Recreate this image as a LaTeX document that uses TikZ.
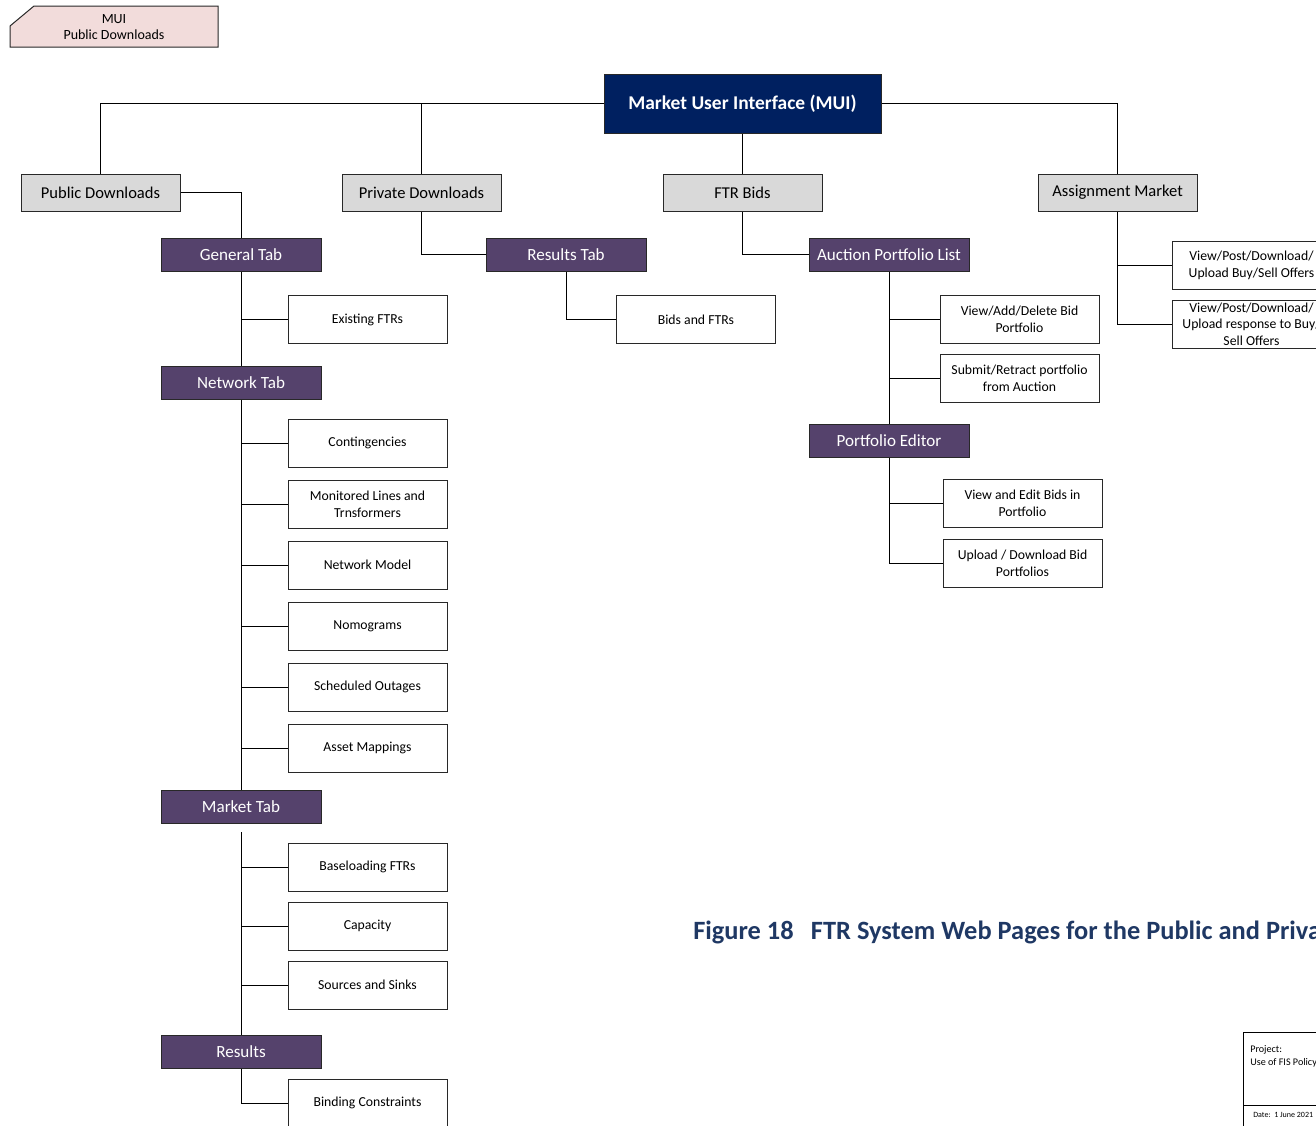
\documentclass[tikz,border=0pt]{standalone}
\usepackage{fontspec}
\setmainfont{Carlito}
\definecolor{navy}{HTML}{002060}
\definecolor{tabpurple}{RGB}{85,66,108}
\definecolor{boxgray}{HTML}{D9D9D9}
\definecolor{tagpink}{HTML}{F2DCDB}
\definecolor{capblue}{RGB}{31,56,100}
\definecolor{edge}{RGB}{40,40,40}
\tikzset{
  base/.style={draw=edge, line width=0.75pt, inner sep=0pt, align=center},
  graybox/.style={base, fill=boxgray, minimum width=119.25pt, minimum height=27.75pt, font=\fontsize{12.4}{14}\selectfont},
  tabbox/.style={base, fill=tabpurple, text=white, minimum width=120pt, minimum height=24.75pt, font=\fontsize{12.8}{14}\selectfont},
  leaf/.style={base, fill=white, minimum width=119.25pt, minimum height=36pt, font=\fontsize{10.3}{12.75}\selectfont},
  topbox/.style={base, fill=navy, text=white, minimum width=207.75pt, minimum height=44.25pt, font=\bfseries\fontsize{14.6}{16}\selectfont},
  conn/.style={draw=black, line width=0.75pt},
}
\begin{document}
\begin{tikzpicture}[x=0.75pt,y=-0.75pt]
\useasboundingbox (0,0) rectangle (1316,1125);
\begin{scope}
\clip (0,0) rectangle (1316,1125);
% tag
\draw[base, fill=tagpink] (10,26) -- (34,6) -- (218,6) -- (218,47) -- (10,47) -- cycle;
\node[font=\fontsize{10.5}{12.5}\selectfont, align=center] (tag) at (114,27) {MUI\\Public Downloads};

% top
\node[topbox] (mui) at (742.5,103.5) {Market User Interface (MUI)};
\node[graybox] (pub) at (100.5,192.5) {Public Downloads};
\node[graybox] (priv) at (421.5,192.5) {Private Downloads};
\node[graybox] (ftr) at (742.5,192.5) {FTR Bids};
\node[graybox] (asg) at (1117.5,192.5) {Assignment Market};

% tabs
\node[tabbox] (gen) at (241,254.5) {General Tab};
\node[tabbox] (net) at (241,382.5) {Network Tab};
\node[tabbox] (mkt) at (241,806.5) {Market Tab};
\node[tabbox] (res) at (241,1051.5) {Results};
\node[tabbox] (rtab) at (566,254.5) {Results Tab};
\node[tabbox] (apl) at (889,254.5) {Auction Portfolio List};
\node[tabbox] (ped) at (889,440.5) {Portfolio Editor};

% leaves public
\node[leaf] (exi) at (367.5,319.5) {Existing FTRs};
\node[leaf] (cont) at (367.5,443) {Contingencies};
\node[leaf] (mon) at (367.5,504) {Monitored Lines and\\Trnsformers};
\node[leaf] (nmod) at (367.5,565) {Network Model};
\node[leaf] (nomo) at (367.5,626) {Nomograms};
\node[leaf] (sched) at (367.5,687) {Scheduled Outages};
\node[leaf] (asset) at (367.5,748) {Asset Mappings};
\node[leaf] (basel) at (367.5,867) {Baseloading FTRs};
\node[leaf] (cap) at (367.5,926) {Capacity};
\node[leaf] (src) at (367.5,985) {Sources and Sinks};
\node[leaf] (bind) at (367.5,1103) {Binding Constraints};

% leaves private / ftr
\node[leaf] (bids) at (696,319.5) {Bids and FTRs};
\node[leaf] (vadd) at (1019.5,319.5) {View/Add/Delete Bid\\Portfolio};
\node[leaf] (subm) at (1019.5,378.5) {Submit/Retract portfolio\\from Auction};
\node[leaf] (vedit) at (1022.5,503) {View and Edit Bids in\\Portfolio};
\node[leaf] (upl) at (1022.5,563) {Upload / Download Bid\\Portfolios};

% assignment leaves
\node[leaf] (ao1) at (1251.5,265) {View/Post/Download/\\Upload Buy/Sell Offers};
\node[leaf, font=\fontsize{10.3}{12.3}\selectfont] (ao2) at (1251.5,324) {View/Post/Download/\\Upload response to Buy/\\Sell Offers};

% connectors top
\draw[conn] (mui.west) -| (pub.north);
\draw[conn] (mui.west) -| (priv.north);
\draw[conn] (mui.east) -| (asg.north);
\draw[conn] (mui.south) -- (ftr.north);

% public tree
\draw[conn] (pub.east) -| (gen.north);
\draw[conn] (gen.south) -- (net.north);
\draw[conn] (net.south) -- (mkt.north);
\coordinate (mktgap) at (241,832);
\draw[conn] (mktgap) -- (res.north);
\draw[conn] (res.south) |- (bind.west);
\foreach \n in {exi,cont,mon,nmod,nomo,sched,asset,basel,cap,src}
  \draw[conn] (\n.west) -- (\n.west -| gen.south);

% private tree
\draw[conn] (priv.south) |- (rtab.west);
\draw[conn] (rtab.south) |- (bids.west);

% ftr tree
\draw[conn] (ftr.south) |- (apl.west);
\draw[conn] (apl.south) -- (ped.north);
\draw[conn] (vadd.west) -- (vadd.west -| apl.south);
\draw[conn] (subm.west) -- (subm.west -| apl.south);
\draw[conn] (ped.south) |- (upl.west);
\draw[conn] (vedit.west) -- (vedit.west -| ped.south);

% assignment tree
\draw[conn] (asg.south) |- (ao2.west);
\draw[conn] (ao1.west) -- (ao1.west -| asg.south);

% caption
\node[anchor=base west, text=capblue, font=\bfseries\fontsize{19.8}{22}\selectfont, inner sep=0pt] (cap18) at (693,939) {Figure 18\hspace{13pt}FTR System Web Pages for the Public and Private};

% title block
\draw[line width=0.75pt] (1243,1140) -- (1243,1032) -- (1330,1032);
\draw[line width=0.5pt] (1243,1105) -- (1330,1105);
\node[anchor=base west, font=\fontsize{7.6}{9}\selectfont, inner sep=0pt] (proj) at (1250,1052) {Project:};
\node[anchor=base west, font=\fontsize{7.6}{9}\selectfont, inner sep=0pt] (projname) at (1250,1065) {Use of FIS Policy};
\node[anchor=base west, font=\fontsize{6}{7}\selectfont, inner sep=0pt] (date) at (1253,1117) {Date:\ \ 1 June 2021};
\end{scope}
\end{tikzpicture}
\end{document}
